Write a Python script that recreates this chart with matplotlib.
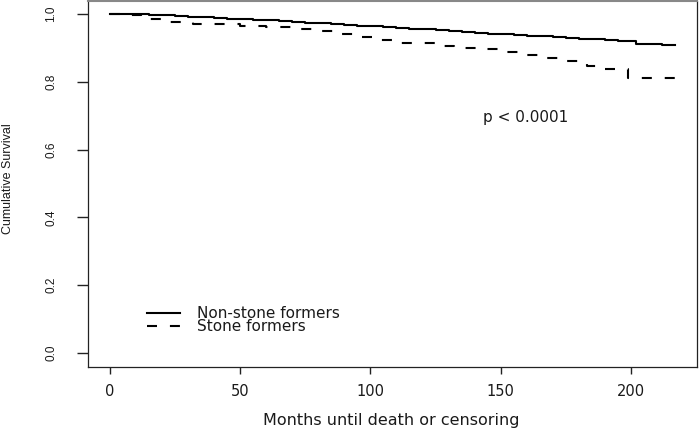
import matplotlib
matplotlib.use('Agg')  # headless run
import matplotlib.pyplot as plt

# Kaplan-Meier estimates (months, cumulative survival)
non_stone_t = [0, 5, 10, 15, 20, 25, 30, 35, 40, 45, 50, 55, 60, 65, 70, 75,
               80, 85, 90, 95, 100, 105, 110, 115, 120, 125, 130, 135, 140,
               145, 150, 155, 160, 165, 170, 175, 180, 185, 190, 195, 198,
               202, 207, 212, 217]
non_stone_s = [1.000, 1.000, 0.999, 0.998, 0.996, 0.994, 0.992, 0.990, 0.988,
               0.986, 0.985, 0.983, 0.981, 0.979, 0.977, 0.974, 0.972, 0.970,
               0.968, 0.965, 0.963, 0.961, 0.959, 0.956, 0.954, 0.952, 0.950,
               0.947, 0.945, 0.942, 0.940, 0.938, 0.936, 0.934, 0.932, 0.929,
               0.927, 0.925, 0.923, 0.921, 0.919, 0.912, 0.911, 0.909, 0.908]

stone_t = [0, 5, 12, 22, 32, 50, 60, 70, 78, 87, 95, 102, 110, 125, 132, 142,
           150, 158, 166, 174, 183, 188, 199, 205, 217]
stone_s = [1.000, 0.996, 0.985, 0.976, 0.970, 0.965, 0.962, 0.955, 0.950,
           0.941, 0.932, 0.923, 0.914, 0.906, 0.898, 0.896, 0.888, 0.879,
           0.870, 0.860, 0.845, 0.839, 0.811, 0.810, 0.810]

legend_labels = ['Non-stone formers', 'Stone formers']
x_ticks = [0, 50, 100, 150, 200]
y_ticks = [0.0, 0.2, 0.4, 0.6, 0.8, 1.0]

ink = '#1a1a1a'
narrow = ['Liberation Sans', 'DejaVu Sans']

fig = plt.figure(figsize=(6.99, 4.28), dpi=100)
ax = fig.add_axes([88 / 699, 61 / 428, 608.7 / 699, 366 / 428])

l1, = ax.plot(non_stone_t, non_stone_s, drawstyle='steps-post', color='black', lw=1.5)
l2, = ax.plot(stone_t, stone_s, drawstyle='steps-post', color='black', lw=1.5,
              dashes=[4.8, 6.2])

ax.set_xlim(-8.45, 225.3)
ax.set_ylim(-0.041, 1.038)

ax.set_xticks(x_ticks)
ax.set_xticklabels([str(v) for v in x_ticks], fontsize=10.5, color=ink)
ax.set_yticks(y_ticks)
ax.set_yticklabels([f'{v:.1f}' for v in y_ticks], fontsize=8.5, color=ink,
                   family=narrow, rotation=90, va='center')
ax.tick_params(axis='x', length=5, width=1, pad=7, color='#222222')
ax.tick_params(axis='y', length=8, width=1, pad=14, color='#222222')

for side in ['left', 'right', 'bottom']:
    ax.spines[side].set_color('#222222')
    ax.spines[side].set_linewidth(0.9)
ax.spines['top'].set_color('#888888')
ax.spines['top'].set_linewidth(1.5)

ax.set_xlabel('Months until death or censoring', fontsize=11.5, color=ink, va='center')
ax.xaxis.set_label_coords(0.4986, -0.1475)
ax.set_ylabel('Cumulative Survival', fontsize=9, color=ink, family=narrow, va='center')
ax.yaxis.set_label_coords(-0.131, 0.516)

ax.text(159.6, 0.694, 'p < 0.0001', fontsize=11, color=ink, ha='center', va='center')

ax.legend([l1, l2], legend_labels, loc='center left', bbox_to_anchor=(0.097, 0.128),
          frameon=False, fontsize=11, handlelength=2.15, handletextpad=1.15,
          labelspacing=-0.12, borderpad=0, borderaxespad=0, labelcolor=ink)

fig.savefig('out.png', dpi=100)
